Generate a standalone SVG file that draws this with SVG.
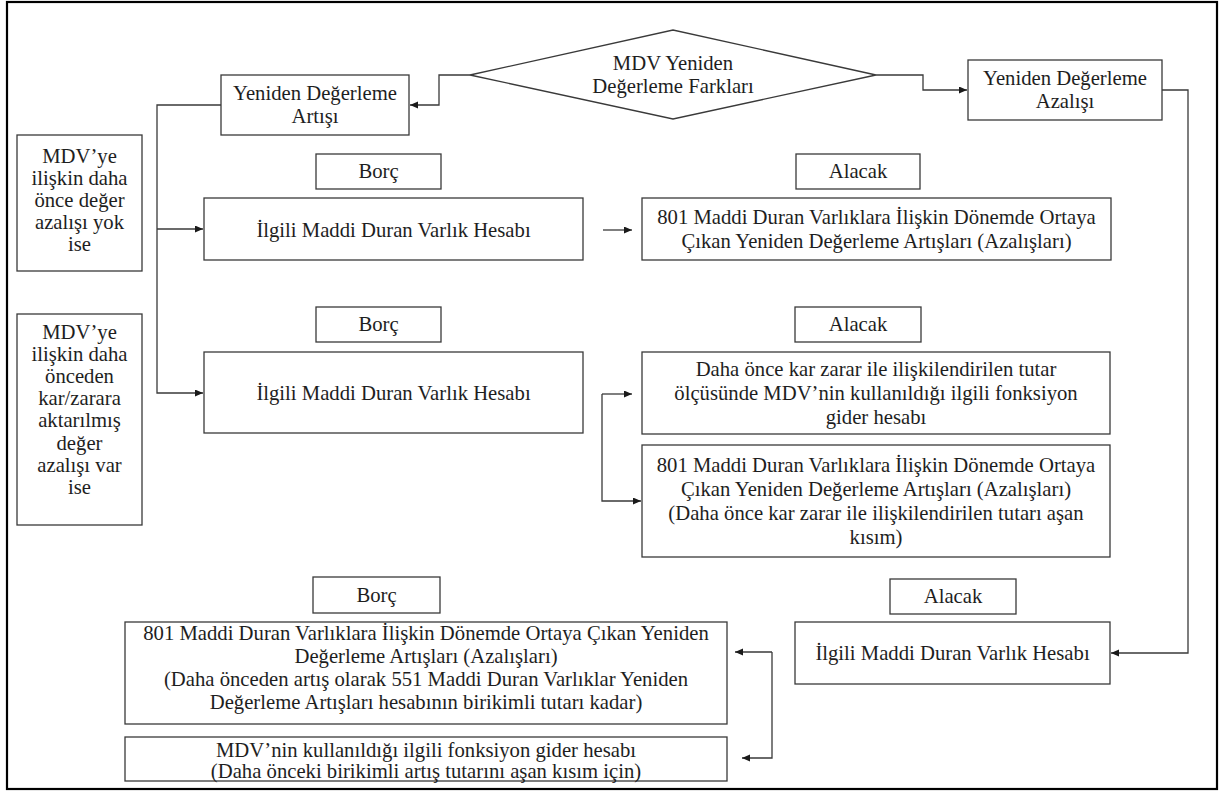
<svg xmlns="http://www.w3.org/2000/svg" width="1226" height="791" viewBox="0 0 1226 791">
  <defs>
    <style>
      .box { fill: #ffffff; stroke: #3a3a3a; stroke-width: 1.3; }
      .frame { fill: #ffffff; stroke: #000000; stroke-width: 2.2; }
      .lbl { font-family: "Liberation Serif", "Times New Roman", serif; font-size: 20.7px; fill: #1e1e1e; text-anchor: middle; }
      .conn { fill: none; stroke: #3a3a3a; stroke-width: 1.3; }
      .arr { marker-end: url(#head); }
    </style>
    <marker id="head" markerUnits="userSpaceOnUse" markerWidth="9" markerHeight="8" refX="8" refY="3.5" orient="auto">
      <path d="M0,0 L8,3.5 L0,7 z" fill="#1a1a1a"/>
    </marker>
  </defs>

  <rect class="frame" x="7" y="2" width="1210" height="787"/>

  <!-- decision -->
  <g id="farklar">
    <polygon class="box" points="470,75 673,30 876,75 673,119"/>
    <text class="lbl" x="673" y="70">MDV Yeniden</text>
    <text class="lbl" x="673" y="93">Değerleme Farkları</text>
  </g>

  <g id="artis">
    <rect class="box" x="221" y="75" width="188" height="60"/>
    <text class="lbl" x="315" y="100">Yeniden Değerleme</text>
    <text class="lbl" x="315" y="123">Artışı</text>
  </g>

  <g id="azalis">
    <rect class="box" x="968" y="60" width="194" height="60"/>
    <text class="lbl" x="1065" y="85">Yeniden Değerleme</text>
    <text class="lbl" x="1065" y="108">Azalışı</text>
  </g>

  <!-- conditions -->
  <g id="kosul-yok">
    <rect class="box" x="17" y="135" width="125" height="136"/>
    <text class="lbl" x="79.5" y="163">MDV’ye</text>
    <text class="lbl" x="79.5" y="185">ilişkin daha</text>
    <text class="lbl" x="79.5" y="207">önce değer</text>
    <text class="lbl" x="79.5" y="229">azalışı yok</text>
    <text class="lbl" x="79.5" y="251">ise</text>
  </g>

  <g id="kosul-var">
    <rect class="box" x="17" y="314" width="125" height="211"/>
    <text class="lbl" x="79.5" y="339">MDV’ye</text>
    <text class="lbl" x="79.5" y="361">ilişkin daha</text>
    <text class="lbl" x="79.5" y="383">önceden</text>
    <text class="lbl" x="79.5" y="405">kar/zarara</text>
    <text class="lbl" x="79.5" y="427">aktarılmış</text>
    <text class="lbl" x="79.5" y="450">değer</text>
    <text class="lbl" x="79.5" y="472">azalışı var</text>
    <text class="lbl" x="79.5" y="494">ise</text>
  </g>

  <!-- first entry -->
  <g id="borc-1">
    <rect class="box" x="316" y="154" width="125" height="35"/>
    <text class="lbl" x="378.5" y="178">Borç</text>
  </g>
  <g id="alacak-1">
    <rect class="box" x="796" y="154" width="124" height="35"/>
    <text class="lbl" x="858" y="178">Alacak</text>
  </g>
  <g id="mdv-hesap-1">
    <rect class="box" x="204" y="198" width="379" height="62"/>
    <text class="lbl" x="393.5" y="237">İlgili Maddi Duran Varlık Hesabı</text>
  </g>
  <g id="hesap801-1">
    <rect class="box" x="642" y="198" width="469" height="62"/>
    <text class="lbl" x="876.5" y="224">801 Maddi Duran Varlıklara İlişkin Dönemde Ortaya</text>
    <text class="lbl" x="876.5" y="248">Çıkan Yeniden Değerleme Artışları (Azalışları)</text>
  </g>

  <!-- second entry -->
  <g id="borc-2">
    <rect class="box" x="316" y="307" width="125" height="35"/>
    <text class="lbl" x="378.5" y="331">Borç</text>
  </g>
  <g id="alacak-2">
    <rect class="box" x="795" y="307" width="126" height="35"/>
    <text class="lbl" x="858" y="331">Alacak</text>
  </g>
  <g id="mdv-hesap-2">
    <rect class="box" x="204" y="352" width="379" height="81"/>
    <text class="lbl" x="393.5" y="400">İlgili Maddi Duran Varlık Hesabı</text>
  </g>
  <g id="gider-1">
    <rect class="box" x="642" y="352" width="468" height="82"/>
    <text class="lbl" x="876" y="376">Daha önce kar zarar ile ilişkilendirilen tutar</text>
    <text class="lbl" x="876" y="400">ölçüsünde MDV’nin kullanıldığı ilgili fonksiyon</text>
    <text class="lbl" x="876" y="424">gider hesabı</text>
  </g>
  <g id="hesap801-2">
    <rect class="box" x="642" y="445" width="468" height="112"/>
    <text class="lbl" x="876" y="472">801 Maddi Duran Varlıklara İlişkin Dönemde Ortaya</text>
    <text class="lbl" x="876" y="496">Çıkan Yeniden Değerleme Artışları (Azalışları)</text>
    <text class="lbl" x="876" y="520">(Daha önce kar zarar ile ilişkilendirilen tutarı aşan</text>
    <text class="lbl" x="876" y="544">kısım)</text>
  </g>

  <!-- third entry -->
  <g id="borc-3">
    <rect class="box" x="313" y="577" width="127" height="36"/>
    <text class="lbl" x="376.5" y="602">Borç</text>
  </g>
  <g id="alacak-3">
    <rect class="box" x="890" y="579" width="126" height="35"/>
    <text class="lbl" x="953" y="603">Alacak</text>
  </g>
  <g id="hesap801-3">
    <rect class="box" x="125" y="622" width="602" height="102"/>
    <text class="lbl" x="426" y="640">801 Maddi Duran Varlıklara İlişkin Dönemde Ortaya Çıkan Yeniden</text>
    <text class="lbl" x="426" y="663">Değerleme Artışları (Azalışları)</text>
    <text class="lbl" x="426" y="686">(Daha önceden artış olarak 551 Maddi Duran Varlıklar Yeniden</text>
    <text class="lbl" x="426" y="709">Değerleme Artışları hesabının birikimli tutarı kadar)</text>
  </g>
  <g id="gider-2">
    <rect class="box" x="125" y="737" width="602" height="44"/>
    <text class="lbl" x="426" y="757">MDV’nin kullanıldığı ilgili fonksiyon gider hesabı</text>
    <text class="lbl" x="426" y="778">(Daha önceki birikimli artış tutarını aşan kısım için)</text>
  </g>
  <g id="mdv-hesap-3">
    <rect class="box" x="795" y="622" width="315" height="62"/>
    <text class="lbl" x="952.5" y="660">İlgili Maddi Duran Varlık Hesabı</text>
  </g>

  <!-- connectors -->
  <g id="connectors">
    <polyline class="conn arr" points="470,75 439,75 439,105 410,105"/>
    <polyline class="conn arr" points="876,75 923,75 923,90 967,90"/>
    <polyline class="conn arr" points="221,105 157,105 157,393 203,393"/>
    <polyline class="conn arr" points="157,229 203,229"/>
    <polyline class="conn arr" points="603,230 632,230"/>
    <polyline class="conn arr" points="602,394 632,394"/>
    <polyline class="conn arr" points="602,394 602,501 641,501"/>
    <polyline class="conn arr" points="1162,90 1188,90 1188,653 1111,653"/>
    <polyline class="conn arr" points="772,652 735,652"/>
    <polyline class="conn arr" points="772,652 772,758 742,758"/>
  </g>
</svg>
